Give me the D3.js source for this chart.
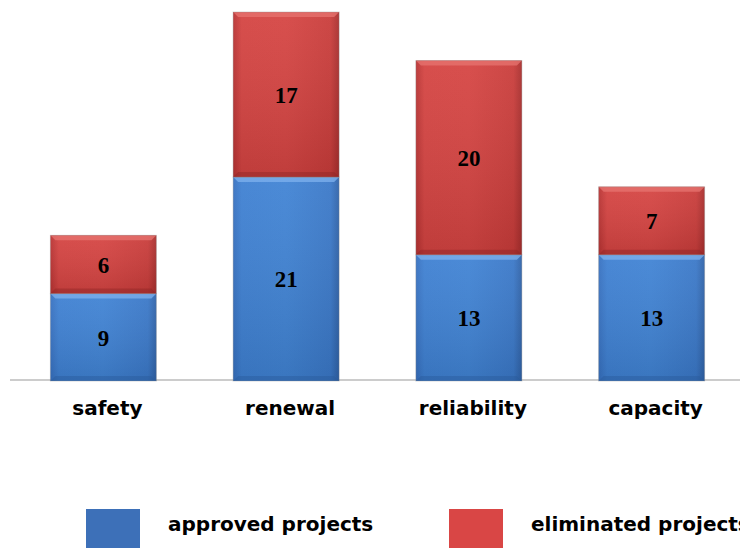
<!DOCTYPE html>
<html><head><meta charset="utf-8">
<script src="https://cdn.jsdelivr.net/npm/d3@7"></script>
<style>body{margin:0;background:#fff}svg{display:block}</style>
</head><body>
<script>
const categories = ["safety", "renewal", "reliability", "capacity"];
const approved = [9, 21, 13, 13];
const eliminated = [6, 17, 20, 7];
const seriesNames = ["approved projects", "eliminated projects"];

const W = 740, H = 548;
const svg = d3.select("body").append("svg").attr("width", W).attr("height", H);
const defs = svg.append("defs");

function grad(id, stops) {
  const g = defs.append("linearGradient").attr("id", id).attr("x1", 0).attr("y1", 0).attr("x2", 1).attr("y2", 0);
  stops.forEach(s => g.append("stop").attr("offset", s[0]).attr("stop-color", s[1]));
}
grad("gBlue", [[0, "#3670c0"], [0.08, "#3e80d2"], [0.5, "#4083d4"], [0.92, "#3a78c8"], [1, "#2f62a8"]]);
grad("gRed", [[0, "#b83232"], [0.08, "#d44341"], [0.5, "#d54442"], [0.92, "#c93c3a"], [1, "#a82e2d"]]);
const vb = defs.append("linearGradient").attr("id", "gShade").attr("x1", 0).attr("y1", 0).attr("x2", 0).attr("y2", 1);
vb.append("stop").attr("offset", 0).attr("stop-color", "#fff").attr("stop-opacity", 0.06);
vb.append("stop").attr("offset", 1).attr("stop-color", "#000").attr("stop-opacity", 0.1);

const x = d3.scaleBand().domain(categories).range([12, 743]).paddingInner(0.42).paddingOuter(0.21);
const y = d3.scaleLinear().domain([0, 38]).range([381, 12]);

const stackData = categories.map((c, i) => ({cat: c, approved: approved[i], eliminated: eliminated[i]}));
const stack = d3.stack().keys(["approved", "eliminated"])(stackData);
const fills = {approved: ["url(#gBlue)", "#7fb2ee", "#2a5a9c"], eliminated: ["url(#gRed)", "#e77470", "#8f2626"]};

// axis line
svg.append("line").attr("x1", 10).attr("x2", W).attr("y1", y(0) - 1).attr("y2", y(0) - 1)
  .attr("stroke", "#9a9a9a").attr("stroke-width", 1.2);

stack.forEach(layer => {
  const key = layer.key;
  const g = svg.append("g");
  layer.forEach(d => {
    const x0 = x(d.data.cat), bw = x.bandwidth();
    const yt = y(d[1]), yb = y(d[0]), h = yb - yt;
    const bev = 5;
    g.append("rect").attr("x", x0).attr("y", yt).attr("width", bw).attr("height", h)
      .attr("fill", fills[key][0]);
    g.append("rect").attr("x", x0).attr("y", yt).attr("width", bw).attr("height", h)
      .attr("fill", "url(#gShade)");
    // top bevel
    g.append("path").attr("d", `M${x0},${yt}L${x0 + bw},${yt}L${x0 + bw - bev},${yt + bev}L${x0 + bev},${yt + bev}Z`)
      .attr("fill", fills[key][1]).attr("opacity", 0.75);
    // bottom bevel
    g.append("path").attr("d", `M${x0},${yb}L${x0 + bw},${yb}L${x0 + bw - bev},${yb - bev}L${x0 + bev},${yb - bev}Z`)
      .attr("fill", fills[key][2]).attr("opacity", 0.45);
    g.append("rect").attr("x", x0).attr("y", yt).attr("width", bw).attr("height", h)
      .attr("fill", "none").attr("stroke", "#8a8a8a").attr("stroke-opacity", 0.35).attr("stroke-width", 1);
    g.append("text").attr("x", x0 + bw / 2).attr("y", (yt + yb) / 2).attr("dy", "0.36em")
      .attr("text-anchor", "middle").attr("font-family", "'Liberation Serif','Times New Roman',serif")
      .attr("font-weight", "bold").attr("font-size", 23).attr("fill", "#000").text(d[1] - d[0]);
  });
});

// category labels
svg.append("g").selectAll("text").data(categories).join("text")
  .attr("x", d => x(d) + x.bandwidth() / 2 + 4).attr("y", 415)
  .attr("text-anchor", "middle").attr("font-family", "'DejaVu Sans',Verdana,sans-serif")
  .attr("font-weight", "bold").attr("font-size", 20).attr("fill", "#000").text(d => d);

// legend
const legendColors = ["#3d70b8", "#d94645"];
const legendX = [86, 449];
const lg = svg.append("g").selectAll("g").data(seriesNames).join("g")
  .attr("transform", (d, i) => `translate(${legendX[i]},509)`);
lg.append("rect").attr("width", 54).attr("height", 45).attr("fill", (d, i) => legendColors[i]);
lg.append("text").attr("x", 82).attr("y", 22).attr("font-family", "'DejaVu Sans',Verdana,sans-serif")
  .attr("font-weight", "bold").attr("font-size", 20).attr("fill", "#000").text(d => d);
</script>
</body></html>
